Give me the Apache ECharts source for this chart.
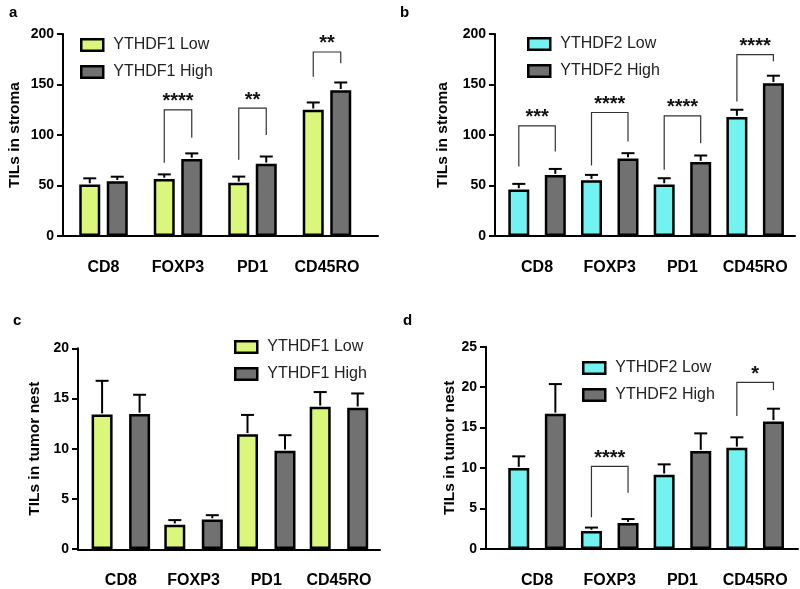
<!DOCTYPE html>
<html><head><meta charset="utf-8">
<script src="https://cdn.jsdelivr.net/npm/echarts@6/dist/echarts.min.js"></script>
<style>html,body{margin:0;padding:0;background:#fff}#c{width:800px;height:589px}</style>
</head><body><div id="c"></div>
<script>
// ---- data ----
const categories = ['CD8', 'FOXP3', 'PD1', 'CD45RO'];

// Panel a: YTHDF1, stroma
const aLow = [51, 56.5, 52.7, 125];
const aHigh = [54.2, 76.3, 71.5, 144.3];
const aLowErr = [57.1, 61, 58.8, 132.2];
const aHighErr = [58.7, 81.8, 78.7, 152];
// [category, left leg bottom, right leg bottom, bracket top]
const aSig = [[1, 72.6, 97.3, 124.8], [2, 75.4, 100, 126.6], [3, 157.7, 171, 182.2]];
const aStars = ['****', '**', '**'];

// Panel b: YTHDF2, stroma
const bLow = [46.1, 55.3, 51, 117.8];
const bHigh = [60.3, 76.8, 73.2, 151.2];
const bLowErr = [51.6, 60.5, 57.2, 125];
const bHighErr = [66.4, 82, 79.7, 158.7];
const bSig = [[0, 68.8, 83.6, 109], [1, 69.8, 93.6, 122.3], [2, 65.5, 91.9, 119], [3, 133.2, 172.9, 179.5]];
const bStars = ['***', '****', '****', '****'];

// Panel c: YTHDF1, tumor nest
const cLow = [13.4, 2.42, 11.43, 14.17];
const cHigh = [13.46, 2.94, 9.78, 14.08];
const cLowErr = [16.76, 2.88, 13.36, 15.64];
const cHighErr = [15.37, 3.37, 11.34, 15.5];
const cSig = [];
const cStars = [];

// Panel d: YTHDF2, tumor nest
const dLow = [10.0, 2.22, 9.18, 12.5];
const dHigh = [16.7, 3.2, 12.1, 15.77];
const dLowErr = [11.45, 2.65, 10.46, 13.8];
const dHighErr = [20.38, 3.7, 14.29, 17.34];
const dSig = [[1, 3.92, 6.96, 10.22], [3, 16.43, 19.65, 20.6]];
const dStars = ['****', '*'];

const yTicksStroma = {min: 0, max: 200, interval: 50};
const yTicksNestC = {min: 0, max: 20, interval: 5};
const yTicksNestD = {min: 0, max: 25, interval: 5};

// ---- style ----
const FONT = '"Liberation Sans", Arial, Helvetica, sans-serif';
const GREEN = '#dbf77b', CYAN = '#72f3f1', GREY = '#717171';
const BW = 21, BORDER = 2.5;

const panels = [
  {label: 'a', low: aLow, high: aHigh, lowErr: aLowErr, highErr: aHighErr, sig: aSig, stars: aStars,
   names: ['YTHDF1 Low', 'YTHDF1 High'], color: GREEN, yname: 'TILs in stroma', ticks: yTicksStroma,
   axisX: 63, catLeft: 66.25, catW: 298, lineEnd: 378, top: 34, bottom: 236, gap: 6.5, nameGap: 40,
   legend: {left: 80, top: 37}, title: {left: 9, top: 5}},
  {label: 'b', low: bLow, high: bHigh, lowErr: bLowErr, highErr: bHighErr, sig: bSig, stars: bStars,
   names: ['YTHDF2 Low', 'YTHDF2 High'], color: CYAN, yname: 'TILs in stroma', ticks: yTicksStroma,
   axisX: 495, catLeft: 500.7, catW: 290.8, lineEnd: 795, top: 34, bottom: 236, gap: 15.5, nameGap: 44,
   legend: {left: 527, top: 36}, title: {left: 400, top: 5}},
  {label: 'c', low: cLow, high: cHigh, lowErr: cLowErr, highErr: cHighErr, sig: cSig, stars: cStars,
   names: ['YTHDF1 Low', 'YTHDF1 High'], color: GREEN, yname: 'TILs in tumor nest', ticks: yTicksNestC,
   axisX: 78, catLeft: 84.5, catW: 290.8, lineEnd: 380, top: 348.3, bottom: 550, gap: 16.5, nameGap: 35,
   legend: {left: 234, top: 339}, title: {left: 13, top: 313}},
  {label: 'd', low: dLow, high: dHigh, lowErr: dLowErr, highErr: dHighErr, sig: dSig, stars: dStars,
   names: ['YTHDF2 Low', 'YTHDF2 High'], color: CYAN, yname: 'TILs in tumor nest', ticks: yTicksNestD,
   axisX: 486, catLeft: 500.7, catW: 290.8, lineEnd: 798, top: 346.7, bottom: 549, gap: 15.6, nameGap: 25,
   legend: {left: 582, top: 360}, title: {left: 403, top: 313}}
];

const W = 800, H = 589;
const grid = [], xAxis = [], yAxis = [], series = [], legend = [], title = [];

panels.forEach((p, i) => {
  grid[i] = {left: p.catLeft, width: p.catW, top: p.top, height: p.bottom - p.top, containLabel: false};
  grid[i + 4] = {left: p.axisX, width: p.lineEnd - p.axisX, top: p.top, height: p.bottom - p.top, containLabel: false};
  xAxis[i] = {type: 'category', gridIndex: i, data: categories, boundaryGap: true,
    axisLine: {show: false}, axisTick: {show: false},
    axisLabel: {fontFamily: FONT, fontWeight: 'bold', fontSize: 16, color: '#000', margin: 24, interval: 0}};
  yAxis[i] = {type: 'value', gridIndex: i, min: p.ticks.min, max: p.ticks.max, interval: p.ticks.interval,
    offset: p.catLeft - p.axisX,
    name: p.yname, nameLocation: 'middle', nameGap: p.nameGap, nameRotate: 90,
    nameTextStyle: {fontFamily: FONT, fontWeight: 'bold', fontSize: 15.5, color: '#000'},
    axisLine: {show: true, lineStyle: {color: '#000', width: 2}},
    axisTick: {show: true, length: 6, lineStyle: {color: '#000', width: 2}},
    axisLabel: {fontFamily: FONT, fontWeight: 'bold', fontSize: 14, color: '#000', margin: 9},
    splitLine: {show: false}};
  xAxis[i + 4] = {type: 'value', gridIndex: i + 4, min: 0, max: 1, position: 'bottom',
    axisLine: {show: true, onZero: false, lineStyle: {color: '#000', width: 2}},
    axisTick: {show: false}, axisLabel: {show: false}, splitLine: {show: false}};
  yAxis[i + 4] = {type: 'value', gridIndex: i + 4, min: 0, max: 1, show: false};

  const gap = p.gap;
  const gapPct = (gap / BW * 100) + '%';
  series.push({name: p.names[0], type: 'bar', xAxisIndex: i, yAxisIndex: i, data: p.low,
    barWidth: BW, barGap: gapPct, itemStyle: {color: p.color, borderColor: '#000', borderWidth: BORDER}, z: 2});
  series.push({name: p.names[1], type: 'bar', xAxisIndex: i, yAxisIndex: i, data: p.high,
    barWidth: BW, barGap: gapPct, itemStyle: {color: GREY, borderColor: '#000', borderWidth: BORDER}, z: 2});

  const errData = [];
  categories.forEach((c, k) => {
    errData.push([k, p.low[k], p.lowErr[k], -1]);
    errData.push([k, p.high[k], p.highErr[k], 1]);
  });
  series.push({type: 'custom', xAxisIndex: i, yAxisIndex: i, data: errData, z: 3, silent: true,
    renderItem: function (params, api) {
      const k = api.value(0), side = api.value(3);
      const off = side * (BW + gap) / 2;
      const p0 = api.coord([k, api.value(1)]);
      const p1 = api.coord([k, api.value(2)]);
      const x = p0[0] + off;
      return {type: 'group', children: [
        {type: 'line', shape: {x1: x, y1: p0[1] - BORDER / 2, x2: x, y2: p1[1]}, style: {stroke: '#000', lineWidth: 2}},
        {type: 'line', shape: {x1: x - 6.5, y1: p1[1], x2: x + 6.5, y2: p1[1]}, style: {stroke: '#000', lineWidth: 2}}
      ]};
    }});

  if (p.sig.length) {
    const stars = p.stars;
    series.push({type: 'custom', xAxisIndex: i, yAxisIndex: i, data: p.sig, z: 3, silent: true,
      renderItem: function (params, api) {
        const k = api.value(0);
        const off = (BW + gap) / 2;
        const c0 = api.coord([k, api.value(3)]);
        const lb = api.coord([k, api.value(1)]);
        const rb = api.coord([k, api.value(2)]);
        const xl = c0[0] - off, xr = c0[0] + off;
        return {type: 'group', children: [
          {type: 'polyline', shape: {points: [[xl, lb[1]], [xl, c0[1]], [xr, c0[1]], [xr, rb[1]]]},
           style: {stroke: '#333', lineWidth: 1.2, fill: null}},
          {type: 'text', x: c0[0], y: c0[1] + 2,
           style: {text: stars[params.dataIndex], fontFamily: FONT, fontWeight: 'bold', fontSize: 20,
                   fill: '#111', align: 'center', verticalAlign: 'bottom'}}
        ]};
      }});
  }

  legend.push({data: p.names, orient: 'vertical', left: p.legend.left, top: p.legend.top, padding: 0,
    itemWidth: 22, itemHeight: 11.5, itemGap: 11, icon: 'rect', selectedMode: false,
    itemStyle: {borderColor: '#000', borderWidth: BORDER},
    textStyle: {fontFamily: FONT, fontSize: 16, color: '#222', padding: [0, 0, 0, 5]}});
  title.push({text: p.label, left: p.title.left, top: p.title.top, padding: 0,
    textStyle: {fontFamily: FONT, fontWeight: 'bold', fontSize: 15, color: '#000'}});
});

const chart = echarts.init(document.getElementById('c'), null, {renderer: 'canvas', width: W, height: H});
chart.setOption({animation: false, backgroundColor: '#fff', title, legend, grid, xAxis, yAxis, series});
</script></body></html>
